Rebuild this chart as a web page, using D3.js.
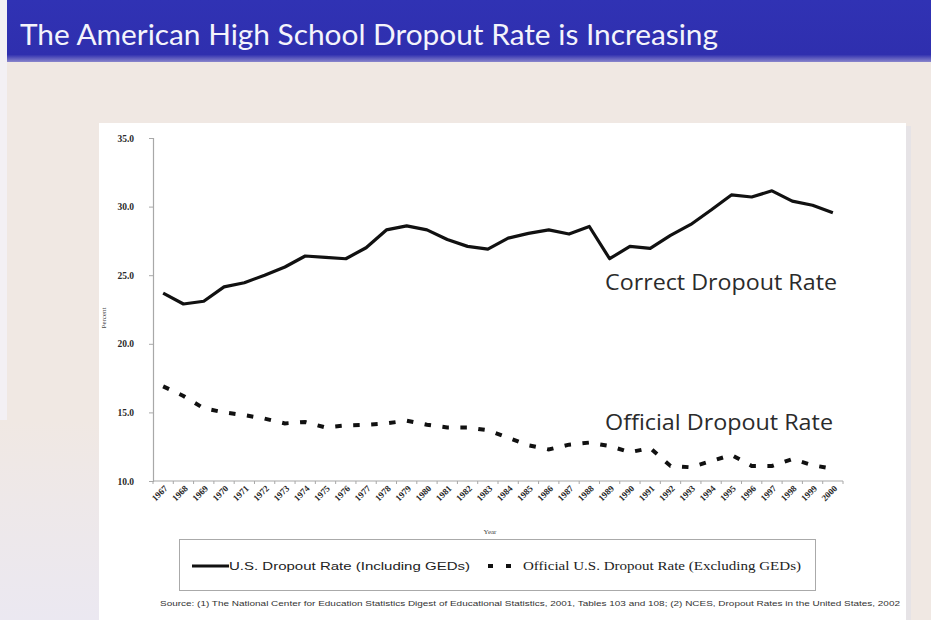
<!DOCTYPE html>
<html>
<head>
<meta charset="utf-8">
<script src="https://cdn.jsdelivr.net/npm/d3@7"></script>
<style>
html,body{margin:0;padding:0;background:#f0e8e3;}
svg{display:block;}
</style>
</head>
<body>
<script>
const title = "The American High School Dropout Rate is Increasing";
const years = ["1967","1968","1969","1970","1971","1972","1973","1974","1975","1976","1977","1978","1979","1980","1981","1982","1983","1984","1985","1986","1987","1988","1989","1990","1991","1992","1993","1994","1995","1996","1997","1998","1999","2000"];
const correctRate = [23.7,22.9,23.1,24.15,24.45,25.0,25.6,26.4,26.3,26.2,27.0,28.3,28.6,28.3,27.6,27.1,26.9,27.7,28.05,28.3,28.0,28.55,26.2,27.1,26.95,27.9,28.7,29.75,30.85,30.7,31.15,30.4,30.1,29.55];
const officialRate = [16.9,16.2,15.3,15.0,14.8,14.55,14.2,14.3,13.9,14.05,14.1,14.2,14.4,14.1,13.9,13.9,13.7,13.15,12.6,12.3,12.65,12.8,12.55,12.1,12.4,11.1,11.0,11.45,11.9,11.1,11.1,11.6,11.15,10.9];
const yTicks = [10,15,20,25,30,35];
const seriesNames = ["U.S. Dropout Rate (Including GEDs)","Official U.S. Dropout Rate (Excluding GEDs)"];
const annotations = ["Correct Dropout Rate","Official Dropout Rate"];
const sourceText = "Source: (1) The National Center for Education Statistics Digest of Educational Statistics, 2001, Tables 103 and 108; (2) NCES, Dropout Rates in the United States, 2002";

const W = 931, H = 620;
const svg = d3.select("body").append("svg").attr("width", W).attr("height", H);

// slide background
svg.append("rect").attr("x",0).attr("y",0).attr("width",W).attr("height",H).attr("fill","#f0e8e3");
svg.append("rect").attr("x",0).attr("y",0).attr("width",7).attr("height",H).attr("fill","#f3f0f4");
const g2 = svg.append("defs").append("linearGradient").attr("id","lb").attr("x1",0).attr("y1",0).attr("x2",0).attr("y2",1);
g2.append("stop").attr("offset","0%").attr("stop-color","#f0e8e3");
g2.append("stop").attr("offset","100%").attr("stop-color","#ebe8f1");
svg.append("rect").attr("x",0).attr("y",420).attr("width",100).attr("height",200).attr("fill","url(#lb)");
// title bar
const defs = svg.append("defs");
const g1 = defs.append("linearGradient").attr("id","tb").attr("x1",0).attr("y1",0).attr("x2",0).attr("y2",1);
g1.append("stop").attr("offset","0%").attr("stop-color","#3032b4");
g1.append("stop").attr("offset","88%").attr("stop-color","#2f2fae");
g1.append("stop").attr("offset","100%").attr("stop-color","#8a86cc");
svg.append("rect").attr("x",7).attr("y",0).attr("width",W-7).attr("height",62).attr("fill","url(#tb)");
svg.append("text").attr("x",20).attr("y",45).attr("fill","#f4f4fb")
  .attr("font-family","Lato, 'Open Sans', sans-serif").attr("font-size",28)
  .attr("textLength",698).attr("lengthAdjust","spacingAndGlyphs").text(title);

// chart panel
svg.append("rect").attr("x",906).attr("y",126).attr("width",5).attr("height",494).attr("fill","#e6e3e6");
svg.append("rect").attr("x",99).attr("y",123).attr("width",807).attr("height",497).attr("fill","#ffffff");

// scales
const x = d3.scaleBand().domain(years).range([153,843]).padding(0);
const cx = d => x(d) + x.bandwidth()/2;
const y = d3.scaleLinear().domain([10,35]).range([481,138]);

// y axis
const yAxis = d3.axisLeft(y).tickValues(yTicks).tickSize(4).tickFormat(d3.format(".1f"));
const yg = svg.append("g").attr("transform","translate(153,0)").call(yAxis);
yg.select(".domain").attr("stroke","#a8a8a8").attr("stroke-width",1.2);
yg.selectAll(".tick line").attr("stroke","#a8a8a8");
yg.selectAll(".tick text").attr("font-family","'Liberation Serif', 'Times New Roman', serif")
  .attr("font-weight","bold").attr("font-size",9.5).attr("fill","#2a2a2a").attr("x",-19);

// x axis
svg.append("line").attr("x1",153).attr("x2",843).attr("y1",481).attr("y2",481).attr("stroke","#a8a8a8").attr("stroke-width",1.2);
const bounds = years.map(d => x(d)).concat([x.range()[1]]);
svg.append("g").selectAll("line").data(bounds).join("line")
  .attr("x1",d=>d).attr("x2",d=>d).attr("y1",481).attr("y2",484).attr("stroke","#a8a8a8");
svg.append("g").selectAll("text").data(years).join("text")
  .attr("transform", d => `translate(${cx(d)+5},${489}) rotate(-45)`)
  .attr("text-anchor","end")
  .attr("font-family","'Liberation Serif', 'Times New Roman', serif")
  .attr("font-weight","bold").attr("font-size",9).attr("fill","#2a2a2a").text(d=>d);

// axis titles
svg.append("text").attr("x",490).attr("y",534).attr("text-anchor","middle")
  .attr("font-family","'Liberation Serif', serif").attr("font-size",7).attr("fill","#444").text("Year");
svg.append("text").attr("transform","translate(106,318) rotate(-90)").attr("text-anchor","middle")
  .attr("font-family","'Liberation Serif', serif").attr("font-size",7).attr("fill","#444").text("Percent");

// lines
const line = d3.line().x((d,i)=>cx(years[i])).y(d=>y(d)).curve(d3.curveLinear);
svg.append("path").datum(correctRate).attr("d",line).attr("fill","none")
  .attr("stroke","#111").attr("stroke-width",3.2).attr("stroke-linejoin","round");
svg.append("path").datum(officialRate).attr("d",line).attr("fill","none")
  .attr("stroke","#111").attr("stroke-width",4).attr("stroke-dasharray","6.5,11.5");

// annotations
svg.append("text").attr("x",605).attr("y",290).attr("fill","#2b2b2b")
  .attr("font-family","'Open Sans', 'Noto Sans', sans-serif").attr("font-size",21)
  .attr("textLength",232).attr("lengthAdjust","spacingAndGlyphs").text(annotations[0]);
svg.append("text").attr("x",605).attr("y",430).attr("fill","#2b2b2b")
  .attr("font-family","'Open Sans', 'Noto Sans', sans-serif").attr("font-size",21)
  .attr("textLength",228).attr("lengthAdjust","spacingAndGlyphs").text(annotations[1]);

// legend
svg.append("rect").attr("x",179.5).attr("y",539.5).attr("width",636).attr("height",51)
  .attr("fill","#fff").attr("stroke","#aaa").attr("stroke-width",1);
svg.append("line").attr("x1",192).attr("x2",229).attr("y1",566).attr("y2",566).attr("stroke","#111").attr("stroke-width",3.2);
svg.append("text").attr("x",229).attr("y",570).attr("font-family","'Liberation Sans', Arial, sans-serif")
  .attr("font-size",11.5).attr("fill","#222").attr("textLength",241).attr("lengthAdjust","spacingAndGlyphs").text(seriesNames[0]);
svg.append("line").attr("x1",488).attr("x2",512).attr("y1",566).attr("y2",566).attr("stroke","#111").attr("stroke-width",4).attr("stroke-dasharray","5,13");
svg.append("text").attr("x",523).attr("y",570).attr("font-family","'Liberation Serif', 'Times New Roman', serif")
  .attr("font-size",11.5).attr("fill","#222").attr("textLength",278).attr("lengthAdjust","spacingAndGlyphs").text(seriesNames[1]);

// source
svg.append("text").attr("x",160).attr("y",606).attr("font-family","'Liberation Sans', Arial, sans-serif")
  .attr("font-size",6.3).attr("fill","#333").attr("textLength",740).attr("lengthAdjust","spacingAndGlyphs").text(sourceText);
</script>
</body>
</html>
